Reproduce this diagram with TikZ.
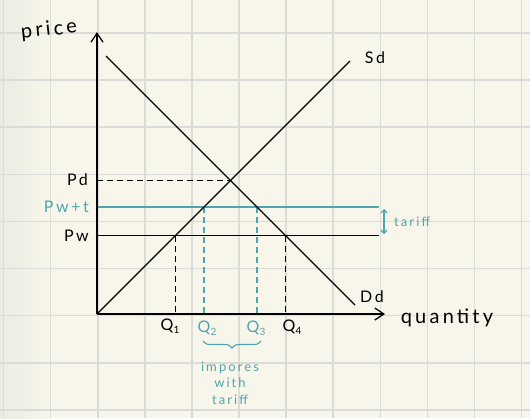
\documentclass[tikz,border=0pt]{standalone}
\usepackage{fontspec}
\setmainfont{Lato}
\newfontfamily\hand[LetterSpace=16]{Lato}
\usetikzlibrary{arrows.meta,decorations.pathreplacing}
\definecolor{paper}{RGB}{248,246,234}
\definecolor{papershade}{RGB}{236,236,228}
\definecolor{gridc}{RGB}{219,219,216}
\definecolor{tealc}{RGB}{78,166,172}
\newcommand{\subq}[1]{\raisebox{-3pt}{\fontsize{10}{10}\selectfont #1}}
\begin{document}
\begin{tikzpicture}[x=1pt,y=-1pt,
  gridline/.style={gridc,line width=1.6pt},
  axis/.style={black,line width=1.4pt,-{Straight Barb[length=9pt,width=12pt,line width=1.3pt]}},
  curve/.style={black,line width=1.2pt},
  level/.style={line width=1.2pt},
  dropline/.style={line width=1.1pt,dash pattern=on 6pt off 4pt},
  lbl/.style={inner sep=0pt,font=\hand\fontsize{16}{16}\selectfont},
  big/.style={inner sep=0pt,font=\hand\fontsize{20}{20}\selectfont},
  small/.style={inner sep=0pt,font=\hand\fontsize{13}{13}\selectfont,text=tealc}]
\fill[paper] (0,0) rectangle (530,418);
\useasboundingbox (0,0) rectangle (530,418);
\shade[left color=papershade,right color=paper] (0,0) rectangle (50,418);
\foreach \i in {0,...,11} \draw[gridline] ({3.5+47.1*\i},0) -- ({3.5+47.1*\i},418);
\foreach \j in {0,...,8} \draw[gridline] (0,{33+47.1*\j}) -- (530,{33+47.1*\j});

% key points
\coordinate (O) at (97,314);
\coordinate (Ytop) at (97,32);
\coordinate (Xend) at (385,314);
\coordinate (S1) at (350,61);
\coordinate (D0) at (106,56);
\coordinate (D1) at (355,305);
\coordinate (E) at (230.5,180.5);
\coordinate (PdA) at (97,180.5);
\coordinate (PwA) at (97,235.5);
\coordinate (PwB) at (379,235.5);
\coordinate (PtA) at (97,207);
\coordinate (PtB) at (379,207);
\coordinate (A1) at (175.5,235.5);
\coordinate (A1b) at (175.5,314);
\coordinate (A2) at (204,207);
\coordinate (A2b) at (204,314);
\coordinate (A3) at (257,207);
\coordinate (A3b) at (257,314);
\coordinate (A4) at (285.5,235.5);
\coordinate (A4b) at (285.5,314);
\coordinate (T1) at (384,209);
\coordinate (T2) at (384,234);
\coordinate (B1) at (203,341);
\coordinate (B2) at (261,341);

% dashed drops
\draw[dropline] (PdA) -- (E);
\draw[dropline] (A1) -- (A1b);
\draw[dropline] (A4) -- (A4b);
\draw[dropline,tealc] (A2) -- (A2b);
\draw[dropline,tealc] (A3) -- (A3b);

% price levels
\draw[level,tealc] (PtA) -- (PtB);
\draw[level] (PwA) -- (PwB);

% curves
\draw[curve] (O) -- (S1);
\draw[curve] (D0) -- (D1);

% axes
\draw[axis] (O) -- (Ytop);
\draw[axis] (O) -- (Xend);

% tariff arrow
\draw[tealc,line width=1.1pt,{Straight Barb[length=3pt,width=6pt]}-{Straight Barb[length=3pt,width=6pt]}] (T1) -- (T2);
\node[small,anchor=west] (tarifflbl) at (394,222) {tariff};

% brace
\draw[tealc,line width=1.1pt,decorate,decoration={brace,amplitude=7pt,mirror}] (B1) -- (B2);

% labels
\node[big,rotate=6] (price) at (49,30) {price};
\node[big] (qty) at (447,318) {quantity};
\node[lbl] (Sd) at (375,58) {Sd};
\node[lbl] (Dd) at (372,297) {Dd};
\node[lbl,anchor=east] (Pd) at (88,180) {Pd};
\node[lbl,anchor=east,text=tealc] (Pwt) at (89,207) {Pw+t};
\node[lbl,anchor=east] (Pw) at (89,236) {Pw};
\node[lbl] (Q1) at (170,326) {Q\subq{1}};
\node[lbl,text=tealc] (Q2) at (207,328) {Q\subq{2}};
\node[lbl,text=tealc] (Q3) at (256,328) {Q\subq{3}};
\node[lbl] (Q4) at (292,327) {Q\subq{4}};
\node[small,align=center,font=\hand\fontsize{13}{16.5}\selectfont] (imp) at (230,383) {impores\\with\\tariff};
\end{tikzpicture}
\end{document}
